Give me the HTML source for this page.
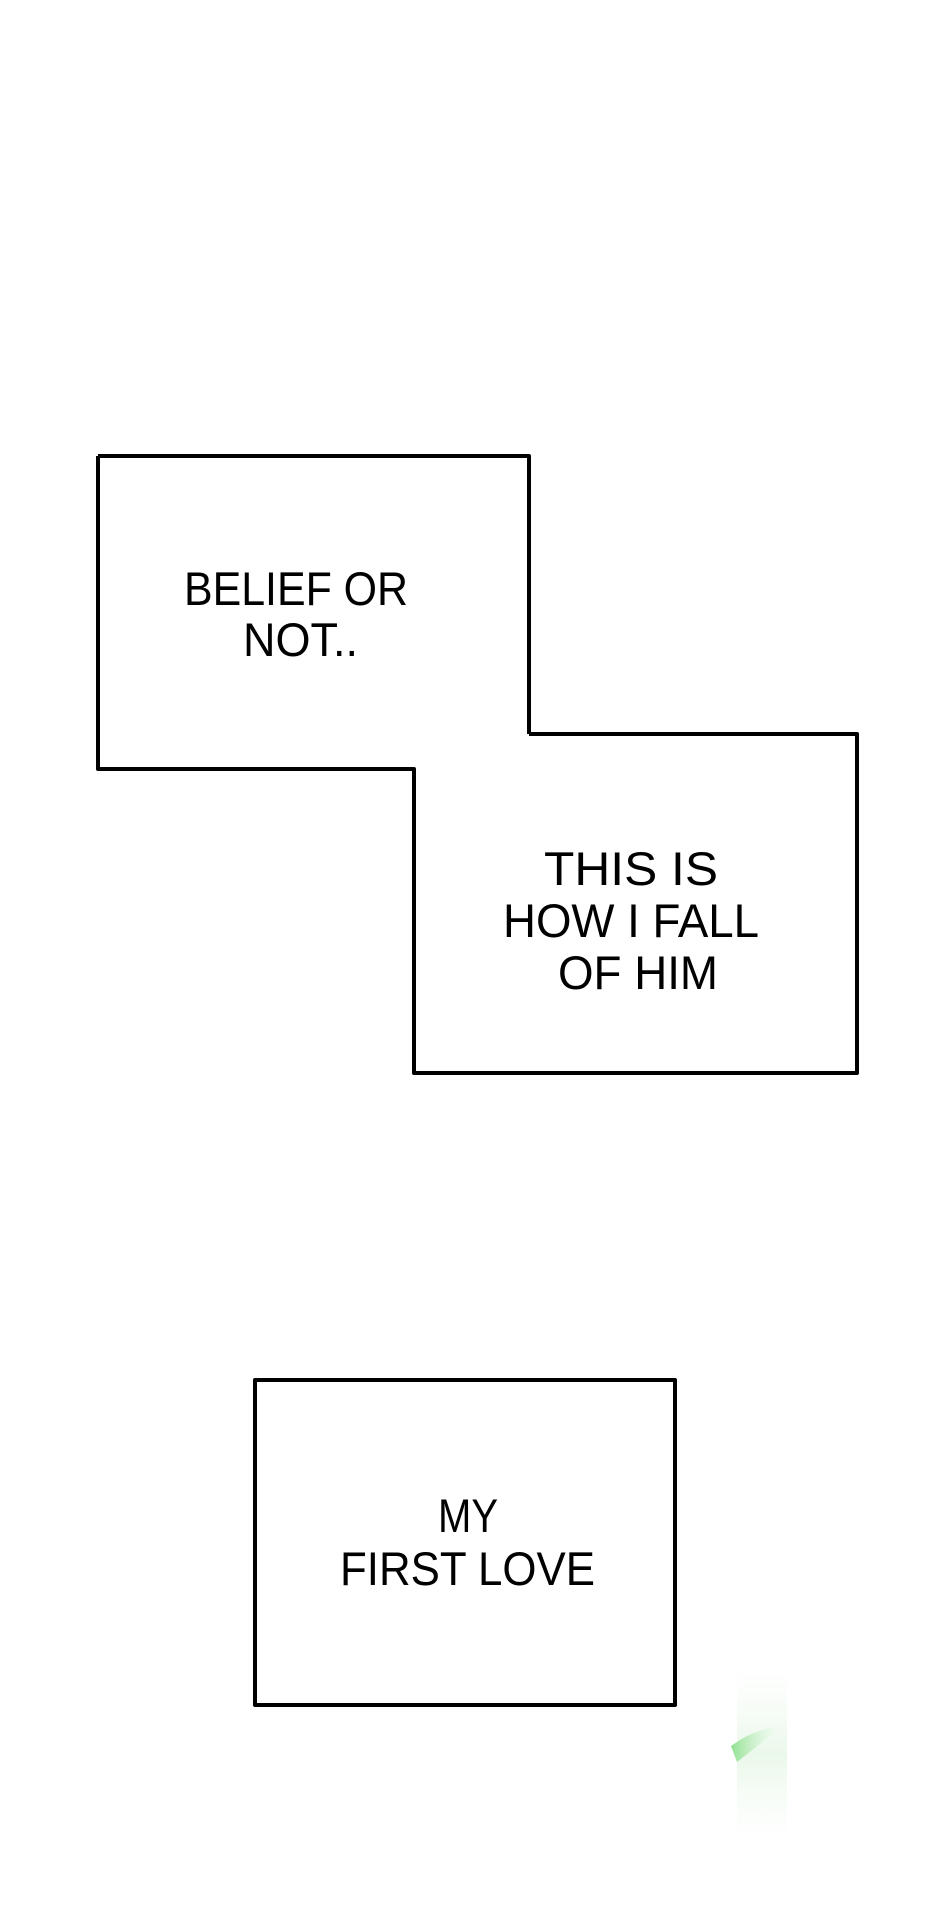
<!DOCTYPE html>
<html><head><meta charset="utf-8"><style>
html,body{margin:0;padding:0;background:#fff;}
svg{display:block;}
text{font-family:"Liberation Sans",sans-serif;fill:#000;}
</style></head><body>
<svg width="940" height="1923" viewBox="0 0 940 1923" xmlns="http://www.w3.org/2000/svg">
<defs>
<linearGradient id="g" x1="0" y1="0" x2="1" y2="0">
<stop offset="0" stop-color="#8ee08e"/><stop offset="1" stop-color="#e8f8e8" stop-opacity="0"/>
</linearGradient>
<linearGradient id="g2" x1="0" y1="0" x2="0" y2="1">
<stop offset="0" stop-color="#f3fbf3" stop-opacity="0"/><stop offset="0.5" stop-color="#eaf8ea"/><stop offset="1" stop-color="#f3fbf3" stop-opacity="0"/>
</linearGradient>
</defs>
<g fill="none" stroke="#000" stroke-width="4" stroke-linejoin="round">
<path d="M98,456 H529 V734 M98,456 V769 H414 V1073 H857 V734 H529"/>
<rect x="255" y="1380" width="420" height="325"/>
</g>
<g font-size="47">
<text x="184" y="605" textLength="224" lengthAdjust="spacingAndGlyphs">BELIEF OR</text>
<text x="243" y="656" textLength="115" lengthAdjust="spacingAndGlyphs">NOT..</text>
<text x="544" y="885" textLength="174" lengthAdjust="spacingAndGlyphs">THIS IS</text>
<text x="503" y="937" textLength="256" lengthAdjust="spacingAndGlyphs">HOW I FALL</text>
<text x="558" y="989" textLength="160" lengthAdjust="spacingAndGlyphs">OF HIM</text>
<text x="438" y="1532" textLength="60" lengthAdjust="spacingAndGlyphs">MY</text>
<text x="340" y="1585" textLength="255" lengthAdjust="spacingAndGlyphs">FIRST LOVE</text>
</g>
<rect x="737" y="1668" width="50" height="172" fill="url(#g2)"/>
<path d="M731,1746 Q755,1728 783,1726 L737,1762 Z" fill="url(#g)"/>
</svg>
</body></html>
